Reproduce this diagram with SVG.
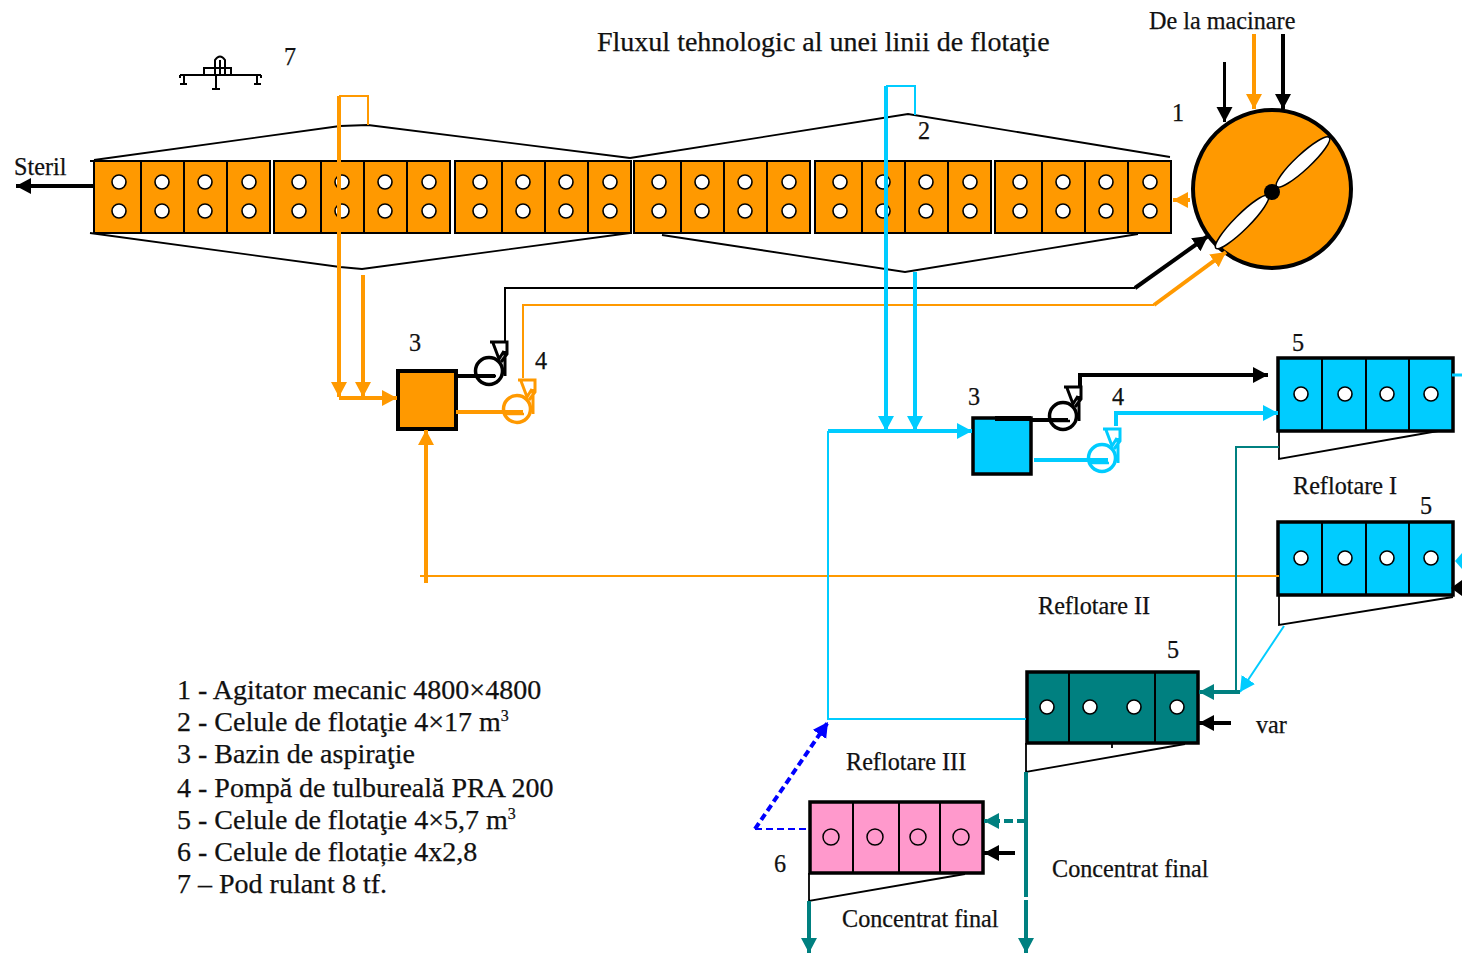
<svg xmlns="http://www.w3.org/2000/svg" width="1462" height="953" viewBox="0 0 1462 953">
<style>
text{font-family:"Liberation Serif","Times New Roman",serif;fill:#111;font-size:24.2px;stroke:#111;stroke-width:.25px}
.ttl{font-size:28px}
.lg{font-size:28px}
.sup{font-size:16px}
.cell{fill:#FF9900;stroke:#000;stroke-width:2}
.div{stroke:#000;fill:none}
.hole{fill:#fff;stroke:#000;stroke-width:1.6}
.hop{fill:none;stroke:#000;stroke-width:1.8}
.k{stroke:#000;fill:none}
.o{stroke:#FF9900;fill:none}
.c{stroke:#00CCFF;fill:none}
.t{stroke:#008080;fill:none}
.b{stroke:#0000FF;fill:none}
.w1{stroke-width:2}.w2{stroke-width:3}.w3{stroke-width:4}
.ak{marker-end:url(#mk)}.ao{marker-end:url(#mo)}.ac{marker-end:url(#mc)}.at{marker-end:url(#mt)}.ab{marker-end:url(#mb)}
</style>
<defs>
<marker id="mk" markerUnits="userSpaceOnUse" markerWidth="18" markerHeight="18" refX="15" refY="8" orient="auto"><path d="M0 0L15 8 0 16z" fill="#000"/></marker>
<marker id="mo" markerUnits="userSpaceOnUse" markerWidth="18" markerHeight="18" refX="15" refY="8" orient="auto"><path d="M0 0L15 8 0 16z" fill="#FF9900"/></marker>
<marker id="mc" markerUnits="userSpaceOnUse" markerWidth="18" markerHeight="18" refX="15" refY="8" orient="auto"><path d="M0 0L15 8 0 16z" fill="#00CCFF"/></marker>
<marker id="mt" markerUnits="userSpaceOnUse" markerWidth="18" markerHeight="18" refX="15" refY="8" orient="auto"><path d="M0 0L15 8 0 16z" fill="#008080"/></marker>
<marker id="mb" markerUnits="userSpaceOnUse" markerWidth="18" markerHeight="18" refX="15" refY="8" orient="auto"><path d="M0 0L15 8 0 16z" fill="#0000FF"/></marker>
<g id="bank4">
<rect class="cell" x="0" y="0" width="176" height="72"/>
<path class="div w1" d="M47 0V72M90 0V72M133 0V72"/>
<circle class="hole" cx="25" cy="21" r="7"/><circle class="hole" cx="68" cy="21" r="7"/><circle class="hole" cx="111" cy="21" r="7"/><circle class="hole" cx="155" cy="21" r="7"/>
<circle class="hole" cx="25" cy="50" r="7"/><circle class="hole" cx="68" cy="50" r="7"/><circle class="hole" cx="111" cy="50" r="7"/><circle class="hole" cx="155" cy="50" r="7"/>
</g>
<g id="bankc">
<rect x="0" y="0" width="175" height="73" fill="#00CCFF" stroke="#000" stroke-width="3.500"/>
<path class="div w1" d="M44 0V73M88 0V73M131 0V73"/>
<circle class="hole" cx="23" cy="36" r="7"/><circle class="hole" cx="67" cy="36" r="7"/><circle class="hole" cx="109" cy="36" r="7"/><circle class="hole" cx="153" cy="36" r="7"/>
</g>
<g id="pump">
<circle cx="0" cy="0" r="13.500" fill="#fff" stroke="currentColor" stroke-width="3.500"/>
<path d="M-13 5H7" fill="none" stroke="currentColor" stroke-width="2.500"/>
<path d="M1 -29H18V-17L12 -9M4 -28L10 -12L15 -20M16 -20V5" fill="none" stroke="currentColor" stroke-width="3"/>
</g>
</defs>

<g id="banks-main">
<use href="#bank4" x="94" y="161"/><use href="#bank4" x="274" y="161"/><use href="#bank4" x="455" y="161"/>
<use href="#bank4" x="634" y="161"/><use href="#bank4" x="815" y="161"/><use href="#bank4" x="995" y="161"/>
<path class="hop" d="M94 160L340 126 368 125 630 158M630 158L908 114 1170 157"/>
<path class="hop" d="M90 233L340 267 362 269 630 233M662 235L905 272 1138 234M90 161H94"/>
</g>
<g id="agitator">
<circle cx="1272" cy="189" r="79" fill="#FF9900" stroke="#000" stroke-width="4"/>
<ellipse cx="1303" cy="162" rx="36" ry="7.500" transform="rotate(-43 1303 162)" fill="#fff" stroke="#000" stroke-width="1.500"/>
<ellipse cx="1242" cy="222" rx="37" ry="7.500" transform="rotate(-45 1242 222)" fill="#fff" stroke="#000" stroke-width="1.500"/>
<circle cx="1272" cy="192" r="8" fill="#000"/>
</g>
<g id="tank-1"><rect x="398" y="371" width="58" height="58" fill="#FF9900" stroke="#000" stroke-width="4"/></g>
<g id="tank-2"><rect x="973" y="418" width="58" height="56" fill="#00CCFF" stroke="#000" stroke-width="3.500"/><rect x="995" y="416" width="36" height="5" fill="#000"/></g>
<g id="pump-1"><use href="#pump" x="489" y="371" color="#000"/></g>
<g id="pump-2"><use href="#pump" x="517" y="409" color="#FF9900"/></g>
<g id="pump-3"><use href="#pump" x="1063" y="416" color="#000"/></g>
<g id="pump-4"><use href="#pump" x="1102" y="458" color="#00CCFF"/></g>
<g id="reflotare-1"><use href="#bankc" x="1278" y="358"/><path class="hop" d="M1279 431V459L1438 431"/></g>
<g id="reflotare-2"><use href="#bankc" x="1278" y="522"/><path class="hop" d="M1279 595V625L1453 597"/></g>
<g id="reflotare-2b">
<rect x="1027" y="672" width="171" height="71" fill="#008080" stroke="#000" stroke-width="3.500"/>
<path class="div w1" d="M1069 672V743M1155 672V743"/>
<circle class="hole" cx="1047" cy="707" r="7"/><circle class="hole" cx="1090" cy="707" r="7"/><circle class="hole" cx="1134" cy="707" r="7"/><circle class="hole" cx="1177" cy="707" r="7"/>
<path class="hop" d="M1026 743V772L1185 744M1112 743V748"/>
</g>
<g id="reflotare-3">
<rect x="810" y="802" width="173" height="71" fill="#FF99CC" stroke="#000" stroke-width="3.500"/>
<path class="div w1" d="M853 802V873M899 802V873M940 802V873"/>
<g fill="none" stroke="#000" stroke-width="1.500"><circle cx="831" cy="837" r="8"/><circle cx="875" cy="837" r="8"/><circle cx="918" cy="837" r="8"/><circle cx="961" cy="837" r="8"/></g>
<path class="hop" d="M809 873V901L965 874"/>
</g>
<g id="pod-rulant">
<path class="k w1" d="M180 75H261M204 75V68H231V75M215 75V60Q220 53 225 60V75M220 60V75M216 75V88M212 89H220M184 75V84M257 75V84M180 84H187M254 84H261M180 75V78M261 75V78"/>
</g>

<g id="connectors">
<path class="k w3 ak" d="M94 186H16"/>
<path class="k w2 ak" d="M1224.500 62V122"/>
<path class="o w3 ao" d="M1254 34V109"/>
<path class="k w3 ak" d="M1283 34V109"/>
<path class="o w3 ao" d="M1190 200H1173"/>
<path class="k w3 ak" d="M1135 288L1208 236"/>
<path class="o w3 ao" d="M1154 305L1226 252"/>
<path class="k w1" d="M1135 288H505V342"/>
<path class="o w1" d="M1154 305H523V378"/>
<path class="k w3" d="M457 376H495"/>
<path class="o w3" d="M456 412H523"/>
<path class="o w3 ao" d="M339 96V397"/>
<path class="o w1" d="M339 96H368V125"/>
<path class="o w3 ao" d="M363 275V397"/>
<path class="o w3 ao" d="M339 398H397"/>
<path class="o w1" d="M420 576H1279"/>
<path class="o w3 ao" d="M426 583V430"/>
<path class="c w3 ac" d="M886 86V431"/>
<path class="c w1" d="M886 86H915V115"/>
<path class="c w3 ac" d="M915 272V431"/>
<path class="c w3 ac" d="M828 431H972"/>
<path class="c w1" d="M828 431V719H1026"/>
<path class="b w3 ab" d="M755 829L828 722" stroke-dasharray="7 4"/>
<path class="b w1" d="M755 829H809" stroke-dasharray="7 4"/>
<path class="k w3" d="M1031 420H1068"/>
<path class="c w3" d="M1034 460H1108"/>
<path class="k w3 ak" d="M1080 387V375H1268"/>
<path class="c w3 ac" d="M1116 426V413H1278"/>
<path class="c w2" d="M1452 375H1462"/>
<path class="t w1" d="M1279 447H1236V690"/>
<path class="c w1 ac" d="M1284 626L1240 692"/>
<path class="t w3 at" d="M1240 692H1199"/>
<path class="k w3 ak" d="M1231 723H1199"/>
<path d="M1455 561L1462 553V569z" fill="#00CCFF"/>
<path d="M1451 588L1462 580V596z" fill="#000"/>
<path class="t w3" d="M1026 772V897"/>
<path class="t w3 at" d="M1026 900V953"/>
<path class="t w3 at" d="M1026 821H984" stroke-dasharray="9 4"/>
<path class="k w3 ak" d="M1015 853H984"/>
<path class="t w3 at" d="M809 901V953"/>
</g>

<g id="labels">
<text class="ttl" x="597" y="51">Fluxul tehnologic al unei linii de flotaţie</text>
<text x="1149" y="29">De la macinare</text>
<text x="14" y="175">Steril</text>
<text x="284" y="65">7</text>
<text x="1172" y="121">1</text>
<text x="918" y="139">2</text>
<text x="409" y="351">3</text>
<text x="535" y="369">4</text>
<text x="968" y="405">3</text>
<text x="1112" y="405">4</text>
<text x="1292" y="351">5</text>
<text x="1420" y="514">5</text>
<text x="1167" y="658">5</text>
<text x="774" y="872">6</text>
<text x="1293" y="494">Reflotare I</text>
<text x="1038" y="614">Reflotare II</text>
<text x="846" y="770">Reflotare III</text>
<text x="1256" y="733">var</text>
<text x="1052" y="877">Concentrat final</text>
<text x="842" y="927">Concentrat final</text>
<text class="lg" x="177" y="699">1 - Agitator mecanic 4800×4800</text>
<text class="lg" x="177" y="731">2 - Celule de flotaţie 4×17 m<tspan class="sup" dy="-10">3</tspan></text>
<text class="lg" x="177" y="763">3 - Bazin de aspiraţie</text>
<text class="lg" x="177" y="797">4 - Pompă de tulbureală PRA 200</text>
<text class="lg" x="177" y="829">5 - Celule de flotaţie 4×5,7 m<tspan class="sup" dy="-10">3</tspan></text>
<text class="lg" x="177" y="861">6 - Celule de flotație 4x2,8</text>
<text class="lg" x="177" y="893">7 – Pod rulant 8 tf.</text>
</g>
</svg>
